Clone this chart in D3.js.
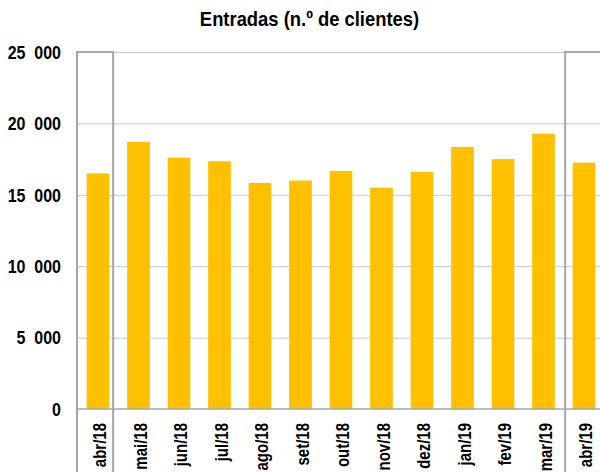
<!DOCTYPE html>
<html>
<head>
<meta charset="utf-8">
<script src="https://cdn.jsdelivr.net/npm/d3@7"></script>
<style>
  body { margin: 0; background: #fff; }
  svg { display: block; font-family: "Liberation Sans", Arial, sans-serif; }
</style>
</head>
<body>
<svg id="grafico" width="600" height="472"></svg>
<script>
const meses = ["abr/18","mai/18","jun/18","jul/18","ago/18","set/18","out/18","nov/18","dez/18","jan/19","fev/19","mar/19","abr/19"];
const entradas = [16500, 18700, 17600, 17350, 15830, 16000, 16670, 15500, 16600, 18350, 17500, 19280, 17250];
const yTicks = [0, 5000, 10000, 15000, 20000, 25000];
const titulo = "Entradas (n.º de clientes)";

const svg = d3.select("#grafico");

const x = d3.scaleBand().domain(meses).range([77.75, 604.25]).paddingInner(0.44).paddingOuter(0.22);
const y = d3.scaleLinear().domain([0, 25000]).range([409, 52]);

// grelha
svg.append("g").attr("transform","translate(77,0)")
  .call(d3.axisLeft(y).tickValues(yTicks.slice(1)).tickSize(-530).tickFormat(""))
  .call(g => g.select(".domain").remove())
  .selectAll("line").attr("stroke","#c8c8c8").attr("stroke-width",1);

// barras
svg.append("g").selectAll("rect").data(entradas).join("rect")
  .attr("x", (d,i) => x(meses[i]))
  .attr("y", d => y(d))
  .attr("width", x.bandwidth())
  .attr("height", d => y(0) - y(d))
  .attr("fill","#ffc000");

// linha do zero
svg.append("line").attr("x1",77).attr("x2",600).attr("y1",y(0)).attr("y2",y(0))
  .attr("stroke","#a6a6a6").attr("stroke-width",1.5);

// caixas dos meses abr
const caixaEsq = x(meses[1]) - 14;
const caixaDir = x(meses[12]) - 7.5;
svg.append("path")
  .attr("d", "M77,473 L77," + y(25000) + " L" + caixaEsq + "," + y(25000) + " L" + caixaEsq + ",473")
  .attr("fill","none").attr("stroke","#a6a6a6").attr("stroke-width",2);
svg.append("path")
  .attr("d", "M" + caixaDir + ",473 L" + caixaDir + "," + y(25000) + " L601," + y(25000))
  .attr("fill","none").attr("stroke","#a6a6a6").attr("stroke-width",2);

// eixo y
const fmt = d => d === 0 ? "0" : d3.format(",")(d).replace(/,/g, "\u00a0\u00a0");
svg.append("g").attr("transform","translate(77,0)")
  .call(d3.axisLeft(y).tickValues(yTicks).tickSize(0).tickPadding(16).tickFormat(fmt))
  .call(g => g.select(".domain").remove())
  .selectAll("text")
  .attr("fill","#000").attr("font-size",16).attr("font-weight","bold")
  .attr("font-family","'Liberation Sans', Arial, sans-serif")
  .attr("dy","0.35em").attr("transform","scale(1,1.11)");

// eixo x
svg.append("g").attr("transform","translate(0," + y(0) + ")")
  .call(d3.axisBottom(x).tickSize(0))
  .call(g => g.select(".domain").remove())
  .selectAll("text")
  .attr("fill","#000").attr("font-size",15).attr("font-weight","bold")
  .attr("font-family","'Liberation Sans', Arial, sans-serif")
  .attr("text-anchor","end").attr("x",0).attr("y",0).attr("dy",0)
  .attr("transform","translate(8.3,14) rotate(-90) scale(1,1.2)");

// titulo
svg.append("text").attr("transform","translate(309.5,26) scale(1,1.14)")
  .attr("text-anchor","middle").attr("font-size",18.4).attr("font-weight","bold")
  .text(titulo);
</script>
</body>
</html>
